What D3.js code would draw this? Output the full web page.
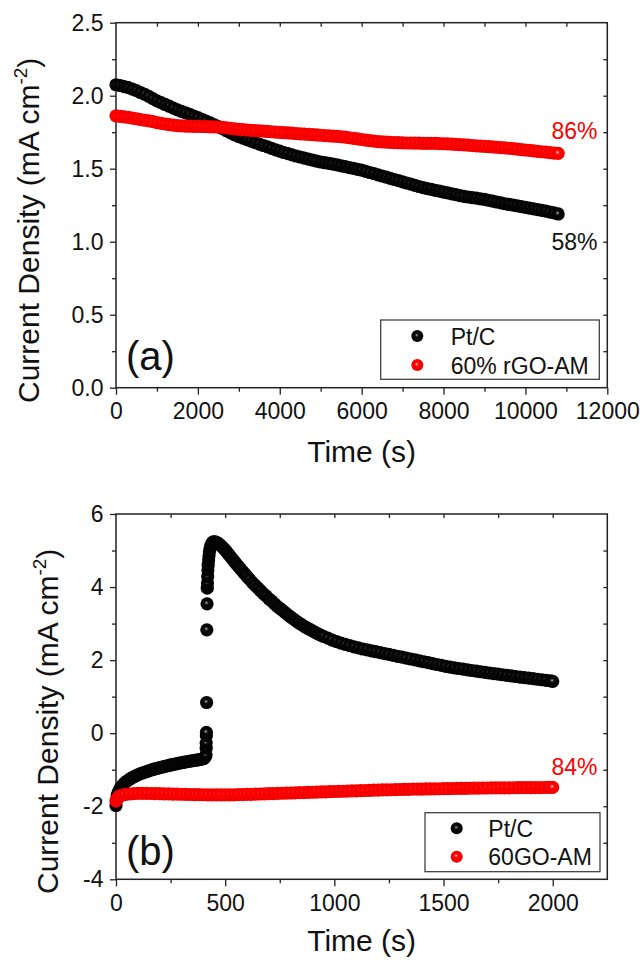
<!DOCTYPE html>
<html>
<head>
<meta charset="utf-8">
<script src="https://cdn.jsdelivr.net/npm/d3@7"></script>
<style>
  body { margin: 0; background: #fff; }
  svg text { font-family: "Liberation Sans", Arial, sans-serif; fill: #111; }
</style>
</head>
<body>
<svg id="chart" width="640" height="960"></svg>
<script>
// ---------- Panel (a): chronoamperometry, 0-10800 s, one reading every 100 s ----------
const timeA = [0,100,200,300,400,500,600,700,800,900,
  1000,1100,1200,1300,1400,1500,1600,1700,1800,1900,
  2000,2100,2200,2300,2400,2500,2600,2700,2800,2900,
  3000,3100,3200,3300,3400,3500,3600,3700,3800,3900,
  4000,4100,4200,4300,4400,4500,4600,4700,4800,4900,
  5000,5100,5200,5300,5400,5500,5600,5700,5800,5900,
  6000,6100,6200,6300,6400,6500,6600,6700,6800,6900,
  7000,7100,7200,7300,7400,7500,7600,7700,7800,7900,
  8000,8100,8200,8300,8400,8500,8600,8700,8800,8900,
  9000,9100,9200,9300,9400,9500,9600,9700,9800,9900,
  10000,10100,10200,10300,10400,10500,10600,10700,10800];
const ptcA = [2.075,2.07,2.062,2.055,2.045,2.035,2.022,2.01,1.995,1.98,
  1.965,1.952,1.94,1.928,1.915,1.903,1.893,1.883,1.872,1.861,
  1.85,1.838,1.826,1.814,1.801,1.788,1.774,1.76,1.746,1.732,
  1.72,1.709,1.699,1.689,1.679,1.669,1.659,1.649,1.639,1.629,
  1.62,1.611,1.603,1.595,1.587,1.58,1.573,1.566,1.559,1.552,
  1.546,1.541,1.536,1.531,1.526,1.52,1.514,1.508,1.502,1.496,
  1.49,1.482,1.474,1.466,1.458,1.45,1.442,1.434,1.426,1.418,
  1.41,1.402,1.394,1.386,1.378,1.37,1.364,1.358,1.352,1.346,
  1.34,1.334,1.328,1.322,1.316,1.31,1.306,1.302,1.298,1.294,
  1.29,1.284,1.278,1.272,1.266,1.26,1.255,1.25,1.245,1.24,
  1.235,1.23,1.225,1.22,1.215,1.21,1.203,1.197,1.19];
const rgoA = [1.862,1.858,1.855,1.851,1.847,1.842,1.837,1.832,1.827,1.822,
  1.816,1.811,1.806,1.802,1.798,1.795,1.793,1.792,1.791,1.79,
  1.79,1.789,1.788,1.787,1.786,1.785,1.783,1.78,1.777,1.773,
  1.77,1.768,1.765,1.763,1.761,1.759,1.757,1.755,1.753,1.751,
  1.749,1.747,1.745,1.743,1.741,1.739,1.737,1.735,1.733,1.731,
  1.729,1.727,1.725,1.723,1.721,1.719,1.716,1.712,1.708,1.704,
  1.70,1.696,1.692,1.689,1.686,1.684,1.682,1.68,1.679,1.678,
  1.677,1.676,1.676,1.675,1.675,1.674,1.674,1.673,1.673,1.672,
  1.671,1.67,1.669,1.667,1.665,1.663,1.661,1.659,1.657,1.655,
  1.653,1.651,1.649,1.647,1.645,1.643,1.64,1.637,1.634,1.631,
  1.628,1.625,1.622,1.619,1.616,1.613,1.61,1.607,1.605];

const xMajorA = [0,2000,4000,6000,8000,10000,12000];
const xMinorA = [1000,3000,5000,7000,9000,11000];
const yMajorA = [0,0.5,1.0,1.5,2.0,2.5];
const yMinorA = [0.25,0.75,1.25,1.75,2.25];
const xTopA = [1000,2000,3000,4000,5000,6000,7000,8000,9000,10000,11000];
const yRightA = [0.25,0.5,0.75,1.0,1.25,1.5,1.75,2.0,2.25];

// ---------- Panel (b): methanol injection at ~410 s, 0-2000 s ----------
const timeB_ptc = [0,3,6,10,15,20,30,40,50,60,70,80,90,100,110,120,130,140,150,160,
  170,180,190,200,210,220,230,240,250,260,270,280,290,300,310,320,330,340,350,360,
  370,380,390,400,405,410,
  412,413,413,414,414,415,416,417,418,419,420,421,422,424,426,428,431,434,438,443,448,
  455,462,470,478,486,494,502,510,518,526,534,542,550,560,570,580,590,600,612,625,
  637,650,662,675,687,700,712,725,737,750,762,775,787,800,812,825,837,850,862,875,
  887,900,912,925,937,
  950,970,990,1010,1030,1050,1070,1090,1110,1130,
  1150,1170,1190,1210,1230,1250,1270,1290,1310,1330,
  1350,1370,1390,1410,1430,1450,1470,1490,1510,1530,
  1550,1570,1590,1610,1630,1650,1670,1690,1710,1730,
  1750,1770,1790,1810,1830,1850,1870,1890,1910,1930,
  1950,1970,1990,2000];
const ptcB = [-1.98,-1.80,-1.70,-1.62,-1.55,-1.50,-1.42,-1.36,-1.31,-1.27,-1.23,-1.20,-1.17,-1.14,-1.115,-1.09,-1.07,-1.05,-1.03,-1.01,
  -0.99,-0.975,-0.96,-0.945,-0.93,-0.915,-0.90,-0.885,-0.87,-0.86,-0.845,-0.835,-0.82,-0.81,-0.80,-0.785,-0.775,-0.765,-0.755,-0.745,
  -0.735,-0.725,-0.715,-0.70,-0.68,-0.63,
  -0.60,-0.41,-0.27,-0.07,0.02,0.84,2.83,3.54,3.97,4.11,4.29,4.47,4.60,4.74,4.86,4.97,5.06,5.13,5.19,5.23,5.24,
  5.235,5.22,5.19,5.15,5.10,5.05,5.00,4.94,4.88,4.82,4.76,4.70,4.64,4.57,4.50,4.43,4.36,4.29,4.21,4.12,
  4.05,3.97,3.90,3.82,3.76,3.68,3.62,3.55,3.48,3.42,3.36,3.30,3.24,3.18,3.13,3.07,3.02,2.97,2.925,2.88,
  2.84,2.80,2.76,2.72,2.685,
  2.65,2.60,2.55,2.505,2.465,2.43,2.395,2.365,2.335,2.305,
  2.28,2.255,2.23,2.205,2.18,2.155,2.13,2.105,2.08,2.055,
  2.03,2.005,1.98,1.955,1.93,1.905,1.88,1.855,1.83,1.81,
  1.79,1.771,1.752,1.734,1.716,1.698,1.681,1.664,1.647,1.631,
  1.615,1.599,1.583,1.567,1.552,1.537,1.522,1.507,1.492,1.477,
  1.462,1.447,1.432,1.42];
const timeB_go = [0,5,10,15,20,
  40,60,80,100,120,140,160,180,200,220,
  240,260,280,300,320,340,360,380,400,420,
  440,460,480,500,520,540,560,580,600,620,
  640,660,680,700,720,740,760,780,800,820,
  840,860,880,900,920,940,960,980,1000,1020,
  1040,1060,1080,1100,1120,1140,1160,1180,1200,1220,
  1240,1260,1280,1300,1320,1340,1360,1380,1400,1420,
  1440,1460,1480,1500,1520,1540,1560,1580,1600,1620,
  1640,1660,1680,1700,1720,1740,1760,1780,1800,1820,
  1840,1860,1880,1900,1920,1940,1960,1980,2000];
const goB = [-1.86,-1.80,-1.76,-1.73,-1.71,
  -1.68,-1.665,-1.655,-1.65,-1.648,-1.649,-1.651,-1.654,-1.657,-1.66,
  -1.663,-1.666,-1.669,-1.672,-1.675,-1.678,-1.681,-1.684,-1.686,-1.688,
  -1.69,-1.691,-1.691,-1.69,-1.689,-1.687,-1.684,-1.681,-1.677,-1.673,
  -1.669,-1.665,-1.661,-1.657,-1.653,-1.649,-1.645,-1.641,-1.637,-1.633,
  -1.629,-1.625,-1.621,-1.617,-1.613,-1.609,-1.605,-1.601,-1.597,-1.593,
  -1.589,-1.585,-1.581,-1.577,-1.573,-1.569,-1.565,-1.561,-1.557,-1.554,
  -1.551,-1.548,-1.545,-1.542,-1.539,-1.536,-1.533,-1.531,-1.529,-1.527,
  -1.525,-1.523,-1.521,-1.519,-1.517,-1.515,-1.513,-1.511,-1.509,-1.507,
  -1.505,-1.503,-1.501,-1.5,-1.499,-1.498,-1.497,-1.496,-1.495,-1.494,
  -1.493,-1.492,-1.491,-1.49,-1.489,-1.488,-1.487,-1.486,-1.485];

const xMajorB = [0,500,1000,1500,2000];
const xMinorB = [250,750,1250,1750];
const yMajorB = [-4,-2,0,2,4,6];
const yMinorB = [-3,-1,1,3,5];
const xTopB = [250,500,750,1000,1250,1500,1750,2000];
const yRightB = [-3,-2,-1,0,1,2,3,4,5];

const seriesNames = ["Pt/C", "60% rGO-AM", "60GO-AM"];

// ---------- drawing ----------
const svg = d3.select("#chart");
const plotLeft = 116, plotRight = 607.3;
const ink = "#222";

// shaded sphere markers with a small specular spot
const defs = svg.append("defs");
function ball(id, hi, mid, base, edge) {
  const g = defs.append("radialGradient").attr("id", id)
    .attr("cx", "0.47").attr("cy", "0.45").attr("fx", "0.45").attr("fy", "0.42").attr("r", "0.6");
  g.append("stop").attr("offset", "0%").attr("stop-color", hi);
  g.append("stop").attr("offset", "12%").attr("stop-color", mid);
  g.append("stop").attr("offset", "30%").attr("stop-color", base);
  g.append("stop").attr("offset", "100%").attr("stop-color", edge);
}
ball("ballBlack", "#d8d8d8", "#505050", "#080808", "#000");
ball("ballRed", "#ffd8d8", "#ff6a6a", "#ff0000", "#f00000");

function zip(ts, vs) {
  const n = Math.min(ts.length, vs.length);
  return d3.range(n).map(i => ({ t: ts[i], v: vs[i] }));
}

function panel(p) {
  const x = d3.scaleLinear().domain(p.xDomain).range([plotLeft, plotRight]);
  const y = d3.scaleLinear().domain(p.yDomain).range([p.bottom, p.top]);
  const g = svg.append("g");

  const style = sel => {
    sel.select(".domain").remove();
    sel.selectAll("line").attr("stroke", ink).attr("stroke-width", 1.3);
    sel.selectAll("text").attr("font-size", 23).attr("fill", "#111");
  };

  // bottom axis: major + minor (outward)
  g.append("g").attr("transform", `translate(0,${p.bottom})`)
    .call(d3.axisBottom(x).tickValues(p.xMajor).tickSize(7).tickPadding(8).tickFormat(d => String(d)))
    .call(style);
  g.append("g").attr("transform", `translate(0,${p.bottom})`)
    .call(d3.axisBottom(x).tickValues(p.xMinor).tickSize(4).tickFormat(""))
    .call(style);
  // left axis
  g.append("g").attr("transform", `translate(${plotLeft},0)`)
    .call(d3.axisLeft(y).tickValues(p.yMajor).tickSize(6).tickPadding(6.5).tickFormat(p.yFormat))
    .call(style);
  g.append("g").attr("transform", `translate(${plotLeft},0)`)
    .call(d3.axisLeft(y).tickValues(p.yMinor).tickSize(4).tickFormat(""))
    .call(style);
  // top and right axes: short inward ticks
  g.append("g").attr("transform", `translate(0,${p.top})`)
    .call(d3.axisTop(x).tickValues(p.xTop).tickSize(-4).tickFormat(""))
    .call(style);
  g.append("g").attr("transform", `translate(${plotRight},0)`)
    .call(d3.axisRight(y).tickValues(p.yRight).tickSize(-4).tickFormat(""))
    .call(style);

  // frame
  g.append("rect").attr("x", plotLeft).attr("y", p.top)
    .attr("width", plotRight - plotLeft).attr("height", p.bottom - p.top)
    .attr("fill", "none").attr("stroke", ink).attr("stroke-width", 1.5);

  // axis titles
  g.append("text").attr("x", (plotLeft + plotRight) / 2).attr("y", p.bottom + p.xTitleDy)
    .attr("text-anchor", "middle").attr("font-size", 30).text("Time (s)");
  const yt = g.append("text")
    .attr("transform", `translate(${p.yTitleX},${p.yTitleStart}) rotate(-90)`)
    .attr("text-anchor", "start").attr("font-size", 30);
  yt.append("tspan").text("Current Density (mA cm");
  yt.append("tspan").attr("font-size", 19).attr("dy", -12).text("-2");
  yt.append("tspan").attr("dy", 12).text(")");

  // panel letter
  g.append("text").attr("x", 126).attr("y", p.letterY).attr("font-size", 40).text(p.letter);

  // series: Pt/C first, the composite drawn on top
  p.series.forEach(s => {
    g.append("g").selectAll("circle").data(zip(s.t, s.v)).join("circle")
      .attr("cx", d => x(d.t)).attr("cy", d => y(d.v)).attr("r", 6.6)
      .attr("fill", `url(#${s.fill})`);
  });

  // retention labels
  p.notes.forEach(n => {
    g.append("text").attr("x", n.x).attr("y", n.y).attr("font-size", 23)
      .style("fill", n.color).text(n.text);
  });

  // legend
  const L = p.legend;
  g.append("rect").attr("x", L.x0).attr("y", L.y0).attr("width", L.x1 - L.x0).attr("height", L.y1 - L.y0)
    .attr("fill", "#fff").attr("stroke", "#333").attr("stroke-width", 1.2);
  p.series.forEach((s, i) => {
    g.append("circle").attr("cx", L.mx).attr("cy", L.my[i]).attr("r", 6).attr("fill", `url(#${s.fill})`);
    g.append("text").attr("x", L.tx).attr("y", L.ty[i]).attr("font-size", 23).text(s.name);
  });
}

panel({
  letter: "(a)", letterY: 370,
  top: 22.7, bottom: 387.7, xDomain: [0, 12000], yDomain: [0, 2.5],
  xMajor: xMajorA, xMinor: xMinorA, yMajor: yMajorA, yMinor: yMinorA, xTop: xTopA, yRight: yRightA,
  yFormat: d3.format(".1f"),
  xTitleDy: 74, yTitleX: 39, yTitleStart: 403,
  series: [
    { name: seriesNames[0], t: timeA, v: ptcA, fill: "ballBlack" },
    { name: seriesNames[1], t: timeA, v: rgoA, fill: "ballRed" }
  ],
  notes: [
    { text: "86%", x: 551.5, y: 138.5, color: "#ff0000" },
    { text: "58%", x: 551.5, y: 250, color: "#111" }
  ],
  legend: { x0: 380.7, y0: 320, x1: 599.3, y1: 379.3, mx: 417.3, my: [336, 365], tx: 450.7, ty: [345, 373.5] }
});

panel({
  letter: "(b)", letterY: 865,
  top: 514, bottom: 879.3, xDomain: [0, 2250], yDomain: [-4, 6],
  xMajor: xMajorB, xMinor: xMinorB, yMajor: yMajorB, yMinor: yMinorB, xTop: xTopB, yRight: yRightB,
  yFormat: d => String(d),
  xTitleDy: 72, yTitleX: 58, yTitleStart: 894,
  series: [
    { name: seriesNames[0], t: timeB_ptc, v: ptcB, fill: "ballBlack" },
    { name: seriesNames[2], t: timeB_go, v: goB, fill: "ballRed" }
  ],
  notes: [
    { text: "84%", x: 551.5, y: 775, color: "#ff0000" }
  ],
  legend: { x0: 425, y0: 812.7, x1: 600, y1: 871.7, mx: 456.7, my: [828.3, 856.7], tx: 488.3, ty: [837, 865.3] }
});
</script>
</body>
</html>
